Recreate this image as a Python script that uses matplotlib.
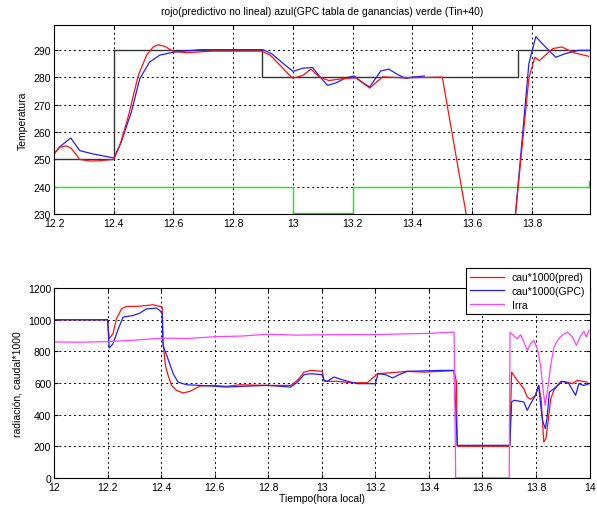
import matplotlib
matplotlib.use("Agg")
import matplotlib.pyplot as plt

plt.rcParams['font.family'] = ['Liberation Sans', 'DejaVu Sans']

# ---------------- top panel: temperature ----------------
sp_t = [12.2, 12.4, 12.4, 12.895, 12.895, 13.755, 13.755, 13.995]
sp_v = [250, 250, 290, 290, 280, 280, 290, 290]

green_t = [12.2, 13.0, 13.0, 13.2, 13.2, 13.99, 13.99, 13.995]
green_v = [240, 240, 230.3, 230.3, 240, 240, 242, 242]

red_t = [12.2, 12.219, 12.241, 12.258, 12.286, 12.32, 12.353, 12.4, 12.42, 12.448,
         12.482, 12.51, 12.532, 12.549, 12.571, 12.599, 12.644, 12.733, 12.895, 12.924,
         12.957, 12.991, 13.0, 13.033, 13.06, 13.088, 13.12, 13.165, 13.21, 13.257,
         13.3, 13.366, 13.5, 13.58, 13.60,
         13.73, 13.745, 13.79, 13.81, 13.825, 13.85, 13.87, 13.9, 13.94, 13.99]
red_v = [252, 254.4, 254.9, 254.0, 250, 249.4, 249.5, 250, 255, 265.4,
         280.6, 288, 291, 291.8, 291.2, 289.4, 288.9, 289.5, 289.5, 288,
         284.3, 280.4, 279.6, 280.6, 282.9, 280.1, 278.75, 279.4, 279.75, 276,
         280.1, 279.75, 280, 230, 227,
         225, 230, 279.75, 287.25, 286, 288.5, 290.4, 291, 288.9, 287.6]

blue_t = [12.2, 12.219, 12.256, 12.286, 12.33, 12.387, 12.4, 12.425, 12.459, 12.487,
          12.52, 12.554, 12.599, 12.689, 12.9, 12.929, 12.968, 13.0, 13.033, 13.066,
          13.088, 13.116, 13.144, 13.177, 13.205, 13.227, 13.257, 13.294, 13.321, 13.35,
          13.377, 13.4, 13.44]
blue_v = [252, 254.6, 257.8, 253.2, 252, 250.8, 250.5, 256.3, 267.3, 279.4,
          285.5, 288, 289.1, 290, 290, 288.5, 284.9, 282.1, 283.25, 283.5,
          280.4, 277, 277.9, 279.75, 280.4, 278.5, 276.4, 282.25, 282.9, 281,
          279.5, 280, 280.4]
blue2_t = [13.73, 13.745, 13.79, 13.813, 13.84, 13.88, 13.91, 13.955, 13.995]
blue2_v = [225, 230, 285, 294.75, 291.6, 287.25, 288.5, 289.75, 289.75]

# ---------------- bottom panel: flow / radiation ----------------
irra_t = [12.0, 12.0, 12.1, 12.2, 12.3, 12.4, 12.5, 12.6, 12.7, 12.8, 12.9, 13.0,
          13.2, 13.4, 13.494, 13.5, 13.70, 13.703, 13.718, 13.73, 13.742, 13.755,
          13.767, 13.78, 13.792, 13.805, 13.817, 13.826, 13.834, 13.842, 13.855,
          13.867, 13.88, 13.899, 13.917, 13.936, 13.951, 13.966, 13.979, 13.988, 13.998]
irra_v = [0, 860, 858, 862, 871, 884, 882, 893, 897, 909, 903, 905,
          907, 914, 922, 0, 0, 922, 897, 880, 905, 859,
          806, 848, 869, 817, 712, 564, 459, 543, 712,
          827, 869, 905, 922, 891, 838, 897, 926, 891, 933]

pred_t = [12.0, 12.2, 12.206, 12.22, 12.233, 12.252, 12.27, 12.32, 12.37, 12.395,
          12.404, 12.407, 12.416, 12.426, 12.439, 12.457, 12.482, 12.507, 12.545, 12.594,
          12.644, 12.694, 12.794, 12.884, 12.909, 12.934, 12.959, 13.002, 13.009, 13.058,
          13.108, 13.17, 13.208, 13.257, 13.32, 13.382, 13.494, 13.503, 13.506, 13.702,
          13.709, 13.73, 13.755, 13.767, 13.78, 13.798, 13.81, 13.819, 13.829, 13.837,
          13.845, 13.855, 13.867, 13.892, 13.917, 13.936, 13.954, 13.972, 13.991]
pred_v = [1000, 1000, 880, 911, 1006, 1069, 1084, 1086, 1095, 1084,
          1080, 859, 711, 648, 585, 554, 537, 547, 581, 585,
          579, 589, 585, 585, 617, 669, 680, 674, 611, 611,
          602, 602, 659, 665, 674, 669, 678, 606, 200, 200,
          669, 617, 564, 512, 497, 522, 585, 501, 227, 248,
          354, 501, 554, 611, 606, 596, 617, 611, 606]

gpc_t = [12.0, 12.2, 12.206, 12.22, 12.24, 12.258, 12.295, 12.32, 12.345, 12.383,
         12.395, 12.404, 12.407, 12.42, 12.432, 12.445, 12.463, 12.495, 12.545, 12.644,
         12.794, 12.884, 12.909, 12.934, 12.959, 13.0, 13.009, 13.02, 13.046, 13.083,
         13.133, 13.2, 13.21, 13.238, 13.264, 13.289, 13.32, 13.444, 13.494, 13.506,
         13.702, 13.709, 13.718, 13.755, 13.767, 13.78, 13.798, 13.81, 13.819, 13.826,
         13.835, 13.841, 13.85, 13.867, 13.899, 13.923, 13.948, 13.96, 13.979, 13.998]
gpc_v = [1000, 1000, 821, 848, 943, 1017, 1027, 1042, 1069, 1074,
         1059, 1038, 838, 779, 722, 659, 606, 589, 585, 575,
         585, 575, 606, 653, 659, 653, 617, 611, 638, 617,
         596, 596, 659, 653, 632, 653, 674, 680, 680, 206,
         206, 480, 491, 480, 427, 469, 522, 585, 438, 354,
         312, 375, 543, 564, 611, 596, 522, 596, 585, 596]

legend_labels = ['cau*1000(pred)', 'cau*1000(GPC)', 'Irra']
title_text = 'rojo(predictivo no lineal) azul(GPC tabla de ganancias) verde (Tin+40)'

fig = plt.figure(figsize=(5.97, 5.10), dpi=100)
fs = 7.5

ax1 = fig.add_axes([0.0905, 0.578, 0.898, 0.371])
ax1.plot(green_t, green_v, color='#10f010', lw=1.0)
ax1.plot(sp_t, sp_v, color='#333333', lw=1.0)
ax1.plot(blue_t, blue_v, color='#2020ff', lw=0.9)
ax1.plot(blue2_t, blue2_v, color='#2020ff', lw=0.9)
ax1.plot(red_t, red_v, color='#ff1010', lw=0.9)
ax1.set_xlim(12.2, 13.995)
ax1.set_ylim(230, 299)
ax1.set_xticks([12.2, 12.4, 12.6, 12.8, 13.0, 13.2, 13.4, 13.6, 13.8])
ax1.set_xticklabels(['12.2', '12.4', '12.6', '12.8', '13', '13.2', '13.4', '13.6', '13.8'])
ax1.set_yticks([230, 240, 250, 260, 270, 280, 290])
ax1.set_ylabel('Temperatura', fontsize=fs)
ax1.set_title(title_text, fontsize=fs, pad=8)

ax2 = fig.add_axes([0.0905, 0.061, 0.897, 0.372])
l1, = ax2.plot(pred_t, pred_v, color='#ff1010', lw=0.9)
l2, = ax2.plot(gpc_t, gpc_v, color='#2020ff', lw=0.9)
l3, = ax2.plot(irra_t, irra_v, color='#ff40ff', lw=0.9)
ax2.set_xlim(12, 14)
ax2.set_ylim(0, 1200)
ax2.set_xticks([12, 12.2, 12.4, 12.6, 12.8, 13, 13.2, 13.4, 13.6, 13.8, 14])
ax2.set_xticklabels(['12', '12.2', '12.4', '12.6', '12.8', '13', '13.2', '13.4', '13.6', '13.8', '14'])
ax2.set_yticks([0, 200, 400, 600, 800, 1000, 1200])
ax2.set_ylabel('radiación, caudal*1000', fontsize=fs)
ax2.set_xlabel('Tiempo(hora local)', fontsize=fs, labelpad=1)
leg = ax2.legend([l1, l2, l3], legend_labels, loc='upper right', bbox_to_anchor=(1.0, 1.105),
                 fontsize=fs, fancybox=False, framealpha=1, edgecolor='black',
                 borderaxespad=0, handlelength=3.2, borderpad=0.4, labelspacing=0.35)
leg.get_frame().set_linewidth(0.8)

for ax in (ax1, ax2):
    ax.grid(True, color='black', linestyle=(0, (2, 3)), linewidth=0.7)
    ax.tick_params(direction='in', top=True, right=True, labelsize=fs, length=3, pad=2)
    ax.tick_params(axis='x', pad=3)
    for s in ax.spines.values():
        s.set_linewidth(0.8)

fig.savefig('out.png', dpi=100)
